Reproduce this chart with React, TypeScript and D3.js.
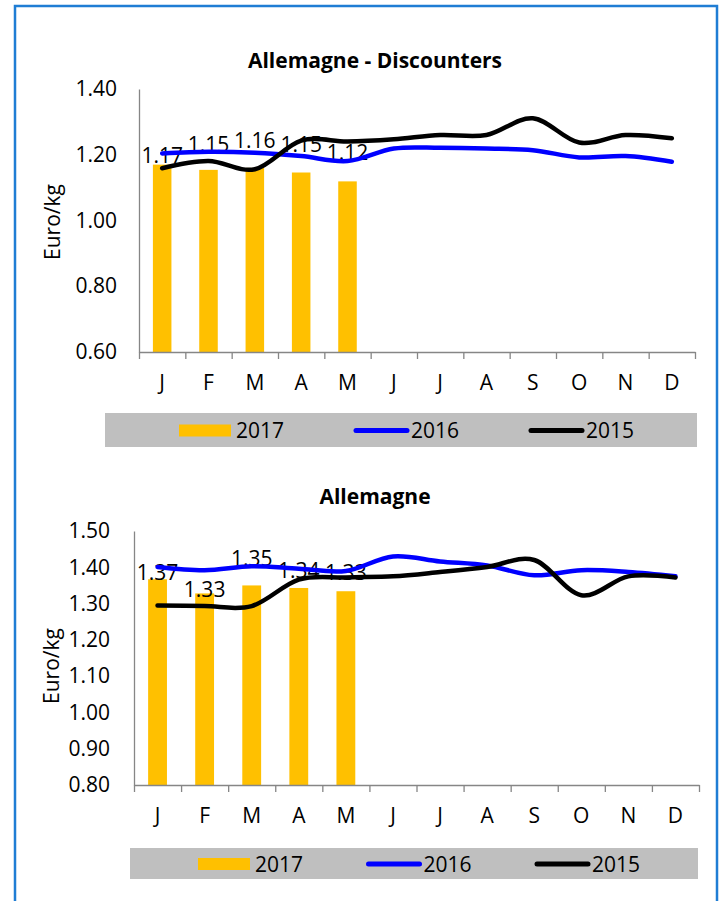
import React, { useRef, useEffect } from "react";
import * as d3 from "d3";

const months = ["J", "F", "M", "A", "M", "J", "J", "A", "S", "O", "N", "D"];
const seriesNames = ["2017", "2016", "2015"];

// Allemagne - Discounters, Euro/kg
const discounters2017 = [1.17, 1.154, 1.16, 1.146, 1.119];
const discounters2016 = [1.204, 1.209, 1.206, 1.196, 1.181, 1.219, 1.221, 1.219, 1.214, 1.192, 1.196, 1.179];
const discounters2015 = [1.159, 1.181, 1.156, 1.243, 1.24, 1.247, 1.26, 1.26, 1.311, 1.237, 1.26, 1.25];
const discountersTicks = [0.6, 0.8, 1.0, 1.2, 1.4];

// Allemagne, Euro/kg
const allemagne2017 = [1.367, 1.328, 1.35, 1.343, 1.334];
const allemagne2016 = [1.401, 1.392, 1.403, 1.396, 1.39, 1.43, 1.416, 1.405, 1.378, 1.392, 1.387, 1.375];
const allemagne2015 = [1.295, 1.293, 1.293, 1.366, 1.372, 1.375, 1.387, 1.401, 1.42, 1.323, 1.375, 1.372];
const allemagneTicks = [0.8, 0.9, 1.0, 1.1, 1.2, 1.3, 1.4, 1.5];

const FONT = "'Open Sans', 'DejaVu Sans', sans-serif";
const BAR_COLOR = "#FFC000";
const BLUE = "#0000FF";
const BLACK = "#000000";
const AXIS_COLOR = "#868686";
const LEGEND_BG = "#BFBFBF";

const panels = [
  {
    title: "Allemagne - Discounters",
    bars: discounters2017,
    line2016: discounters2016,
    line2015: discounters2015,
    ticks: discountersTicks,
    layout: {
      left: 139, right: 695, top: 89, bottom: 352,
      titleY: 68, yLabelX: 53, yLabelY: 222, tickPad: 22,
      legend: { x: 105, y: 413, w: 592, h: 34, start: 179, step: 175 },
      labelLift: [1.5, 18, 20, 21, 21],
    },
  },
  {
    title: "Allemagne",
    bars: allemagne2017,
    line2016: allemagne2016,
    line2015: allemagne2015,
    ticks: allemagneTicks,
    layout: {
      left: 134, right: 699, top: 531, bottom: 785,
      titleY: 504, yLabelX: 52, yLabelY: 666, tickPad: 24,
      legend: { x: 130, y: 848, w: 568, h: 31, start: 198, step: 168.5 },
      labelLift: [-1, -3.5, 19, 10, 11],
    },
  },
];

function drawPanel(svg: any, p: any) {
  const L = p.layout;
  const g = svg.append("g").attr("font-family", FONT);

  const xEdge = d3.scaleLinear().domain([0, 12]).range([L.left, L.right]);
  const x = d3.scaleBand<number>().domain(d3.range(12)).range([L.left, L.right]).paddingInner(0).paddingOuter(0);
  const bw = x.bandwidth();
  const y = d3.scaleLinear()
    .domain([p.ticks[0], p.ticks[p.ticks.length - 1]])
    .range([L.bottom, L.top]);

  // title
  g.append("text")
    .attr("x", 375)
    .attr("y", L.titleY)
    .attr("text-anchor", "middle")
    .attr("font-size", 21)
    .attr("font-weight", "bold")
    .text(p.title);

  // y axis
  const yAxis = g.append("g")
    .attr("transform", `translate(${L.left},0)`)
    .call(d3.axisLeft(y).tickValues(p.ticks).tickSize(0).tickPadding(L.tickPad).tickFormat(d3.format(".2f")));
  yAxis.select(".domain").attr("stroke", AXIS_COLOR).attr("stroke-width", 1.3);
  yAxis.selectAll("text").attr("font-size", 21).attr("font-family", FONT).attr("fill", "#000");

  g.append("text")
    .attr("transform", `translate(${L.yLabelX},${L.yLabelY}) rotate(-90)`)
    .attr("text-anchor", "middle")
    .attr("dy", "0.35em")
    .attr("font-size", 21)
    .text("Euro/kg");

  // bars
  const barW = bw * 0.4;
  g.selectAll(".bar")
    .data(p.bars)
    .enter()
    .append("rect")
    .attr("x", (_d: number, i: number) => (x(i) as number) + (bw - barW) / 2)
    .attr("y", (d: number) => y(d))
    .attr("width", barW)
    .attr("height", (d: number) => L.bottom - y(d))
    .attr("fill", BAR_COLOR);

  // x axis, ticks on band edges
  const xAxis = g.append("g")
    .attr("transform", `translate(0,${L.bottom})`)
    .call(d3.axisBottom(xEdge).tickValues(d3.range(13)).tickSize(7).tickSizeOuter(0).tickFormat(() => ""));
  xAxis.select(".domain").attr("stroke", AXIS_COLOR).attr("stroke-width", 1.3);
  xAxis.selectAll(".tick line").attr("stroke", AXIS_COLOR).attr("stroke-width", 1.3);

  g.selectAll(".month")
    .data(months)
    .enter()
    .append("text")
    .attr("x", (_d: string, i: number) => (x(i) as number) + bw / 2)
    .attr("y", L.bottom + 38)
    .attr("text-anchor", "middle")
    .attr("font-size", 21)
    .text((d: string) => d);

  // data labels
  g.selectAll(".lbl")
    .data(p.bars)
    .enter()
    .append("text")
    .attr("x", (_d: number, i: number) => (x(i) as number) + bw / 2)
    .attr("y", (d: number, i: number) => y(d) - L.labelLift[i])
    .attr("text-anchor", "middle")
    .attr("font-size", 21)
    .text((d: number) => d.toFixed(2));

  // lines
  const line = d3.line<number>()
    .x((_d, i) => (x(i) as number) + bw / 2)
    .y((d) => y(d))
    .curve(d3.curveCardinal.tension(0));

  g.append("path")
    .attr("d", line(p.line2016))
    .attr("fill", "none")
    .attr("stroke", BLUE)
    .attr("stroke-width", 4.5)
    .attr("stroke-linecap", "round");

  g.append("path")
    .attr("d", line(p.line2015))
    .attr("fill", "none")
    .attr("stroke", BLACK)
    .attr("stroke-width", 4.5)
    .attr("stroke-linecap", "round");

  // legend
  const lg = L.legend;
  g.append("rect")
    .attr("x", lg.x)
    .attr("y", lg.y)
    .attr("width", lg.w)
    .attr("height", lg.h)
    .attr("fill", LEGEND_BG);

  const cy = lg.y + lg.h / 2 + 0.5;
  seriesNames.forEach((name, i) => {
    const sx = lg.start + i * lg.step;
    if (i === 0) {
      g.append("rect")
        .attr("x", sx)
        .attr("y", cy - 6)
        .attr("width", 52)
        .attr("height", 12)
        .attr("fill", BAR_COLOR);
    } else {
      g.append("line")
        .attr("x1", sx + 2)
        .attr("x2", sx + 53)
        .attr("y1", cy)
        .attr("y2", cy)
        .attr("stroke", i === 1 ? BLUE : BLACK)
        .attr("stroke-width", 5)
        .attr("stroke-linecap", "round");
    }
    g.append("text")
      .attr("x", sx + 57)
      .attr("y", cy + 7.5)
      .attr("font-size", 21)
      .text(name);
  });
}

const App = () => {
  const svgRef = useRef<SVGSVGElement | null>(null);

  useEffect(() => {
    const svg = d3.select(svgRef.current);
    svg.selectAll("*").remove();

    svg.append("rect").attr("width", 721).attr("height", 901).attr("fill", "#fff");
    svg.append("rect")
      .attr("x", 15)
      .attr("y", 6)
      .attr("width", 702)
      .attr("height", 1000)
      .attr("fill", "none")
      .attr("stroke", "#1F7DD4")
      .attr("stroke-width", 2.5);

    panels.forEach((p) => drawPanel(svg, p));
  }, []);

  return (
    <svg
      ref={svgRef}
      width={721}
      height={901}
      style={{ position: "absolute", left: 0, top: 0 }}
    ></svg>
  );
};

export default App;
